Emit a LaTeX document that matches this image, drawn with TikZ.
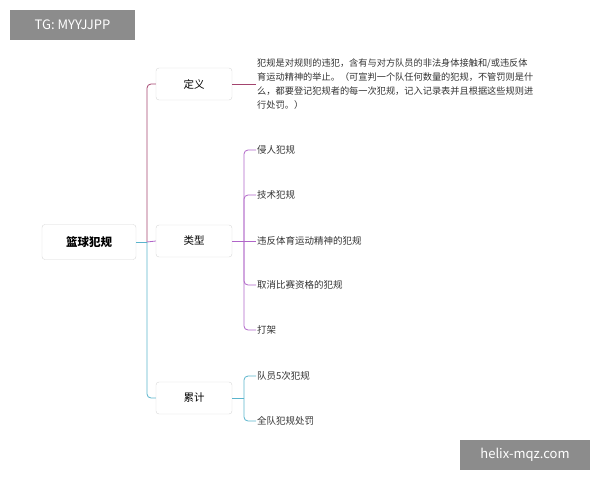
\documentclass[tikz,border=0pt]{standalone}
\usepackage{fontspec}
\setmainfont{Noto Sans CJK SC}
\usetikzlibrary{positioning}
\definecolor{defcol}{HTML}{A3446E}
\definecolor{typcol}{HTML}{B065C8}
\definecolor{cumcol}{HTML}{5AB4CC}
\definecolor{boxline}{HTML}{D8D8D8}
\tikzset{
topic/.style={draw=boxline, rounded corners=3pt, fill=white, minimum width=76pt, minimum height=32pt, font=\fontsize{10.5}{12}\selectfont},
leaf/.style={anchor=west, inner sep=1pt, font=\fontsize{9.5}{11}\selectfont, text=black!80},
tag/.style={fill=black!45, text=white, inner sep=0pt, font=\fontsize{13}{15}\selectfont},
}
\begin{document}
\begin{tikzpicture}[x=1pt, y=-1pt]
    \useasboundingbox (0,0) rectangle (600,480);
    \node[tag, minimum width=125pt, minimum height=30pt] (tg) at (72.5,25) {TG: MYYJJPP};
    \node[tag, minimum width=130pt, minimum height=30pt] (web) at (525,455) {helix-mqz.com};

    \node[topic, minimum width=94pt, minimum height=35pt, font=\fontsize{11.5}{13}\selectfont\bfseries] (root) at (89,242) {篮球犯规};
    \node[topic] (def) at (194,84) {定义};
    \node[topic] (typ) at (194,241) {类型};
    \node[topic] (cum) at (194,398) {累计};

    % trunk
    \coordinate (trunk) at (147,242);
    \draw[cumcol, thick] (root.east) -- (trunk);
    \draw[defcol, thick, rounded corners=4pt] (trunk) |- (def.west);
    \draw[typcol, thick] (trunk) -- (typ.west);
    \draw[cumcol, thick, rounded corners=4pt] (trunk) |- (cum.west);

    % definition
    \node[leaf, align=left, font=\fontsize{9.2}{14}\selectfont] (deftext) at (256,84) {犯规是对规则的违犯，含有与对方队员的非法身体接触和/或违反体\\育运动精神的举止。（可宣判一个队任何数量的犯规，不管罚则是什\\么，都要登记犯规者的每一次犯规，记入记录表并且根据这些规则进\\行处罚。）};
    \draw[defcol, thick] (def.east) -- (deftext.west);

    % types
    \node[leaf] (t1) at (256,150) {侵人犯规};
    \node[leaf] (t2) at (256,195) {技术犯规};
    \node[leaf] (t3) at (256,241) {违反体育运动精神的犯规};
    \node[leaf] (t4) at (256,285) {取消比赛资格的犯规};
    \node[leaf] (t5) at (256,330) {打架};
    \coordinate (tj) at (244,241);
    \draw[typcol, thick] (typ.east) -- (t3.west);
    \foreach \t in {t1,t2,t4,t5}
        \draw[typcol, thick, rounded corners=4pt] (tj) |- (\t.west);

    % cumulative
    \node[leaf] (c1) at (256,376) {队员5次犯规};
    \node[leaf] (c2) at (256,421) {全队犯规处罚};
    \coordinate (cj) at (244,398);
    \draw[cumcol, thick] (cum.east) -- (cj);
    \foreach \c in {c1,c2}
        \draw[cumcol, thick, rounded corners=4pt] (cj) |- (\c.west);
\end{tikzpicture}
\end{document}
